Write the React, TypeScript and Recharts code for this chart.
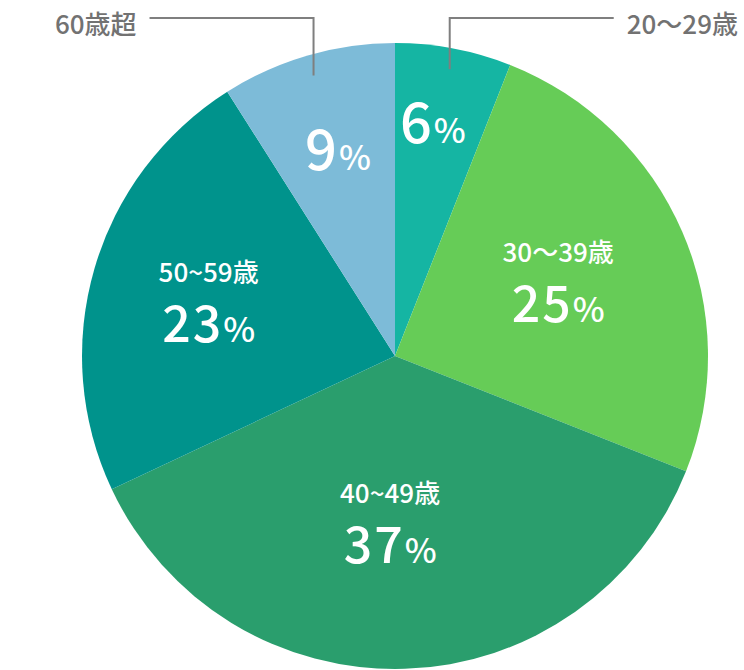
import React from 'react';
import { PieChart, Pie, Cell } from 'recharts';

const categories = ['20～29歳', '30～39歳', '40~49歳', '50~59歳', '60歳超'];
const shares = [6, 25, 37, 23, 9];
const colors = ['#15b5a3', '#66cc57', '#2a9e6d', '#00938c', '#7dbbd8'];

const data = categories.map((name, i) => ({ name, value: shares[i] }));

// label placement styles (radius from centre, angle tweak in degrees, clockwise)
const labelRadius = [216, 176, 175, 192, 195];
const labelAngleTweak = [-0.7, 1.4, 3.4, -2.3, -0.8];
const outside = [true, false, false, false, true];
const valueSize = [56, 50, 50, 50, 56];

const RAD = Math.PI / 180;
const NAME_FONT = '"Noto Sans CJK JP", "Noto Sans", sans-serif';
const VALUE_FONT = '"Noto Sans CJK JP", "Noto Sans", sans-serif';

function renderLabel(props: any) {
  const { cx, cy, midAngle, outerRadius, index, name, value } = props;
  const m = (midAngle - labelAngleTweak[index]) * RAD;
  const r = labelRadius[index];
  const x = cx + r * Math.cos(m);
  const y = cy - r * Math.sin(m);
  const valueText = (
    <>
      <tspan fontSize={valueSize[index]} letterSpacing={2}>{value}</tspan>
      <tspan fontSize={34}>%</tspan>
    </>
  );
  if (outside[index]) {
    const mm = midAngle * RAD;
    const r0 = outerRadius - 21;
    const sx = cx + r0 * Math.cos(mm);
    const sy = cy - r0 * Math.sin(mm);
    const topY = cy - outerRadius - 25;
    const dir = sx >= cx ? 1 : -1;
    const ex = sx + dir * 164;
    return (
      <g key={`lbl-${index}`}>
        <polyline
          points={`${sx},${sy} ${sx},${topY} ${ex},${topY}`}
          fill="none"
          stroke="#7f7f7f"
          strokeWidth={2}
        />
        <text
          x={ex + dir * 13}
          y={topY + 16}
          textAnchor={dir > 0 ? 'start' : 'end'}
          fill="#727272"
          fontFamily={NAME_FONT}
          fontSize={26}
          fontWeight={500}
        >
          {name}
        </text>
        <text
          x={x}
          y={y}
          textAnchor="middle"
          fill="#ffffff"
          fontFamily={VALUE_FONT}
          fontWeight={500}
        >
          {valueText}
        </text>
      </g>
    );
  }
  return (
    <g key={`lbl-${index}`}>
      <text
        x={x}
        y={y - 28}
        textAnchor="middle"
        fill="#ffffff"
        fontFamily={NAME_FONT}
        fontSize={26}
        fontWeight={500}
      >
        {name}
      </text>
      <text
        x={x}
        y={y + 32}
        textAnchor="middle"
        fill="#ffffff"
        fontFamily={VALUE_FONT}
        fontWeight={500}
      >
        {valueText}
      </text>
    </g>
  );
}

export default function App() {
  return (
    <div style={{ position: 'absolute', left: 0, top: 0, width: 744, height: 670, background: '#fff' }}>
      <PieChart width={744} height={670} margin={{ top: 0, right: 0, bottom: 0, left: 0 }}>
        <Pie
          data={data}
          dataKey="value"
          nameKey="name"
          cx={395}
          cy={356}
          outerRadius={313}
          startAngle={90}
          endAngle={-270}
          stroke="none"
          label={renderLabel}
          labelLine={false}
          isAnimationActive={false}
        >
          {data.map((d, i) => (
            <Cell key={d.name} fill={colors[i]} />
          ))}
        </Pie>
      </PieChart>
    </div>
  );
}
